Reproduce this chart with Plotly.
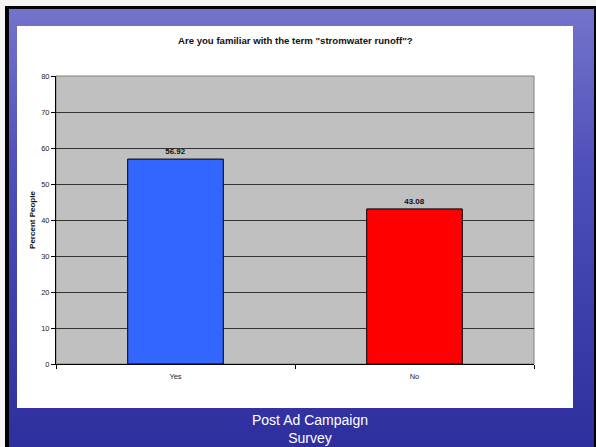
import base64
import plotly.graph_objects as go

categories = ["Yes", "No"]
values = [56.92, 43.08]
bar_colors = ["#3366FF", "#FF0000"]
y_ticks = [0, 10, 20, 30, 40, 50, 60, 70, 80]

W, H = 596, 447
L, R, T, B = 56, 62, 76, 83
pw, ph = W - L - R, H - T - B

def px_x(x):
    return (x - L) / pw

def px_y(y):
    return (H - B - y) / ph

svg = (
    '<svg xmlns="http://www.w3.org/2000/svg" width="596" height="447">'
    '<defs><linearGradient id="g" x1="0" y1="0" x2="0" y2="1">'
    '<stop offset="0" stop-color="#7474cc"/>'
    '<stop offset="0.35" stop-color="#5050ba"/>'
    '<stop offset="1" stop-color="#2e2e9e"/>'
    '</linearGradient></defs>'
    '<rect x="0" y="0" width="596" height="447" fill="#f4f4f4"/>'
    '<rect x="5" y="6" width="591" height="441" fill="#000"/>'
    '<rect x="9" y="9" width="585" height="438" fill="url(#g)"/>'
    '<rect x="594" y="9" width="2" height="438" fill="#000"/>'
    '</svg>'
)
src = "data:image/svg+xml;base64," + base64.b64encode(svg.encode()).decode()

fig = go.Figure()
fig.add_trace(go.Bar(
    x=categories, y=values,
    marker=dict(color=bar_colors, line=dict(color="#000000", width=1)),
    text=[f"{v:.2f}" for v in values], textposition="outside",
    textfont=dict(family="Liberation Sans, Arial", size=8, color="#111"),
    texttemplate="<b>%{text}</b>", cliponaxis=False,
    width=0.4,
))

fig.update_layout(
    width=W, height=H,
    margin=dict(l=L, r=R, t=T, b=B, pad=0),
    paper_bgcolor="#f4f4f4",
    plot_bgcolor="#C0C0C0",
    showlegend=False,
    font=dict(family="Liberation Sans, Arial", size=8, color="#222"),
    images=[dict(source=src, xref="paper", yref="paper",
                 x=px_x(0), y=px_y(0), sizex=W / pw, sizey=H / ph,
                 xanchor="left", yanchor="top", sizing="stretch", layer="below")],
    shapes=[
        dict(type="rect", xref="paper", yref="paper", layer="below",
             x0=px_x(17), x1=px_x(573), y0=px_y(26), y1=px_y(408),
             fillcolor="#ffffff", line=dict(width=0)),
        dict(type="rect", xref="paper", yref="paper", layer="below",
             x0=0, x1=1, y0=0, y1=1,
             fillcolor="#C0C0C0", line=dict(color="#808080", width=1)),
    ],
    annotations=[
        dict(text='<b>Are you familiar with the term "stromwater runoff"?</b>',
             xref="paper", yref="paper", x=px_x(295), y=px_y(40),
             showarrow=False, font=dict(size=9.6, color="#111"),
             xanchor="center", yanchor="middle"),
        dict(text="Post Ad Campaign<br>Survey",
             xref="paper", yref="paper", x=px_x(310), y=px_y(429),
             showarrow=False, font=dict(family="Liberation Sans, Arial", size=14, color="#ffffff"),
             xanchor="center", yanchor="middle"),
    ],
)

fig.update_xaxes(
    showgrid=False, showline=True, linecolor="#000", linewidth=1,
    ticks="outside", tickson="boundaries", ticklen=4, tickcolor="#000",
    tickfont=dict(size=7.5, color="#222"), ticklabelstandoff=5,
)
fig.update_yaxes(
    range=[0, 80], tickvals=y_ticks, showgrid=True, gridcolor="#333333", gridwidth=1,
    showline=True, linecolor="#000", linewidth=1,
    ticks="outside", ticklen=4, tickcolor="#000",
    tickfont=dict(size=7.5, color="#222"),
    title=dict(text="<b>Percent People</b>", font=dict(size=8, color="#111"), standoff=4),
    zeroline=False,
)

fig.write_html("out.html", config={"displayModeBar": False},
               post_script="document.body.style.margin='0';")
